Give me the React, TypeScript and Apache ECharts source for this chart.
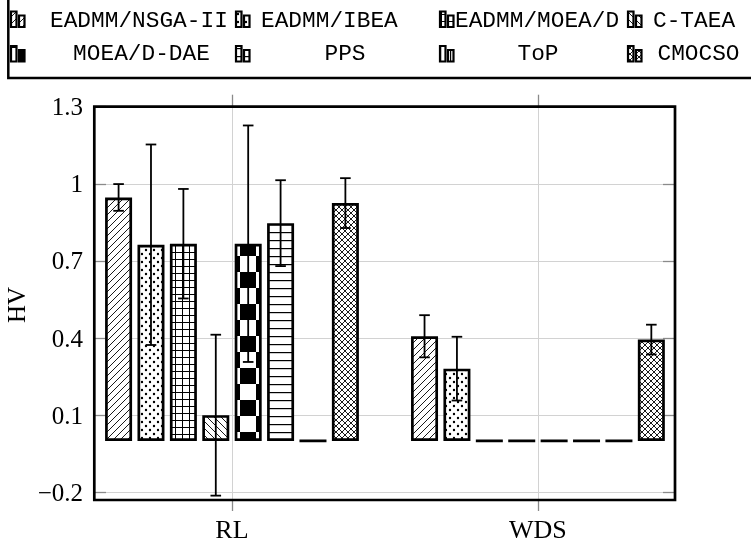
import React, { useEffect, useRef } from 'react';
import * as echarts from 'echarts';

// ---------- data ----------
const categories = ['RL', 'WDS'];
const categoryPos = [0, 1];
const seriesNames = ['EADMM/NSGA-II', 'EADMM/IBEA', 'EADMM/MOEA/D', 'C-TAEA', 'MOEA/D-DAE', 'PPS', 'ToP', 'CMOCSO'];

const nsga2Mean = [0.947, 0.407];
const nsga2Std = [0.052, 0.082];
const ibeaMean = [0.763, 0.281];
const ibeaStd = [0.39, 0.124];
const moeadMean = [0.767, 0];
const moeadStd = [0.213, 0];
const ctaeaMean = [0.1, 0];
const ctaeaStd = [0.313, 0];
const daeMean = [0.767, 0];
const daeStd = [0.46, 0];
const ppsMean = [0.847, 0];
const ppsStd = [0.167, 0];
const topMean = [0, 0];
const topStd = [0, 0];
const cmocsoMean = [0.925, 0.394];
const cmocsoStd = [0.097, 0.058];

const yTicks = [-0.2, 0.1, 0.4, 0.7, 1, 1.3];

const allMeans = [nsga2Mean, ibeaMean, moeadMean, ctaeaMean, daeMean, ppsMean, topMean, cmocsoMean];
const allStds = [nsga2Std, ibeaStd, moeadStd, ctaeaStd, daeStd, ppsStd, topStd, cmocsoStd];
const patternKinds = ['ne', 'dots', 'grid', 'nw', 'checker', 'hlines', 'vlines', 'cross'];

// ---------- styling ----------
const BAR_W = 27;
const BAR_GAP = 0.2;

function makePattern(kind: string): any {
  const sizes: Record<string, number> = { ne: 7, dots: 8, grid: 7, nw: 7, checker: 32, hlines: 8, vlines: 5, cross: 6 };
  const s = sizes[kind];
  const c = document.createElement('canvas');
  c.width = s;
  c.height = s;
  const g = c.getContext('2d')!;
  g.fillStyle = '#fff';
  g.fillRect(0, 0, s, s);
  g.fillStyle = '#000';
  g.strokeStyle = '#000';
  g.lineWidth = 0.9;
  const diag = (dir: number) => {
    g.beginPath();
    for (let k = -1; k <= 1; k++) {
      if (dir > 0) {
        g.moveTo(k * s, s);
        g.lineTo(k * s + s, 0);
      } else {
        g.moveTo(k * s, 0);
        g.lineTo(k * s + s, s);
      }
    }
    g.stroke();
  };
  let ox = 0;
  let oy = 0;
  if (kind === 'ne') diag(1);
  else if (kind === 'nw') diag(-1);
  else if (kind === 'cross') {
    diag(1);
    diag(-1);
  } else if (kind === 'dots') {
    g.beginPath();
    g.arc(2, 2, 1.2, 0, Math.PI * 2);
    g.arc(6, 6, 1.2, 0, Math.PI * 2);
    g.fill();
  } else if (kind === 'grid') {
    g.fillRect(0, 0, s, 1);
    g.fillRect(0, 0, 1, s);
  } else if (kind === 'hlines') {
    g.fillRect(0, 0, s, 1.2);
  } else if (kind === 'vlines') {
    g.fillRect(0, 0, 1.2, s);
  } else if (kind === 'checker') {
    g.fillRect(0, 0, s / 2, s / 2);
    g.fillRect(s / 2, s / 2, s / 2, s / 2);
    ox = 18;
    oy = 9;
  }
  return { image: c, repeat: 'repeat', imageWidth: s, imageHeight: s, x: ox, y: oy };
}

export default function App() {
  const ref = useRef<HTMLDivElement>(null);
  useEffect(() => {
    if (!ref.current) return;
    const chart = echarts.init(ref.current, undefined, { renderer: 'svg' });
    const patterns = patternKinds.map((k) => makePattern(k));
    const serif = 'Liberation Serif';
    const mono = 'Liberation Mono';
    const xMin = -0.451;
    const xMax = 1.448;
    const yMin = -0.23;
    const yMax = 1.3;
    const tickColor = '#8a8a8a';
    const gridColor = '#d2d2d2';

    const barSeries = seriesNames.map((name, i) => ({
      name,
      type: 'bar',
      xAxisIndex: 0,
      yAxisIndex: 0,
      barWidth: BAR_W,
      barGap: BAR_GAP * 100 + '%',
      data: categoryPos.map((x, j) => [x, allMeans[i][j]]),
      itemStyle: { color: patterns[i], borderColor: '#000', borderWidth: 2.7 },
      z: 3,
    }));

    const errData: number[][] = [];
    allMeans.forEach((m, i) => {
      categoryPos.forEach((x, j) => {
        if (allStds[i][j] > 0) errData.push([x, m[j], allStds[i][j], i]);
      });
    });

    const errSeries = {
      type: 'custom',
      xAxisIndex: 0,
      yAxisIndex: 0,
      z: 6,
      clip: false,
      data: errData,
      renderItem: (_p: any, api: any) => {
        const x = api.value(0);
        const m = api.value(1);
        const s = api.value(2);
        const k = api.value(3);
        const step = BAR_W * (1 + BAR_GAP);
        const c = api.coord([x, m]);
        const cx = c[0] + (k - (seriesNames.length - 1) / 2) * step;
        const yt = api.coord([x, m + s])[1];
        const yb = api.coord([x, m - s])[1];
        const st = { stroke: '#000', lineWidth: 1.8 };
        const hw = 5.3;
        return {
          type: 'group',
          children: [
            { type: 'line', shape: { x1: cx, y1: yt, x2: cx, y2: yb }, style: st },
            { type: 'line', shape: { x1: cx - hw, y1: yt, x2: cx + hw, y2: yt }, style: st },
            { type: 'line', shape: { x1: cx - hw, y1: yb, x2: cx + hw, y2: yb }, style: st },
          ],
        };
      },
    };

    // legend graphic
    const iconX = [11, 236, 440, 628];
    const rowBottom = [27, 61.5];
    const rowMid = [20.5, 53.5];
    const textStart = [50, 261, 455, 653];
    const textCenter = [141.5, 345, 538, 698.5];
    const legendEls: any[] = [
      {
        type: 'rect',
        shape: { x: 8.3, y: -10, width: 800, height: 88 },
        style: { fill: 'none', stroke: '#000', lineWidth: 2.5 },
        z: 20,
      },
    ];
    seriesNames.forEach((name, i) => {
      const col = i % 4;
      const row = Math.floor(i / 4);
      const bx = iconX[col];
      const by = rowBottom[row];
      legendEls.push({
        type: 'rect',
        shape: { x: bx, y: by - 15.5, width: 5.5, height: 15.5 },
        style: { fill: patterns[i], stroke: '#000', lineWidth: 2.2 },
        z: 20,
      });
      legendEls.push({
        type: 'rect',
        shape: { x: bx + 8, y: by - 11.5, width: 5.5, height: 11.5 },
        style: { fill: patterns[i], stroke: '#000', lineWidth: 2.2 },
        z: 20,
      });
      legendEls.push({
        type: 'text',
        x: row === 0 ? textStart[col] : textCenter[col],
        y: rowMid[row],
        style: {
          text: name,
          font: '22.8px "' + mono + '"',
          fill: '#000',
          textAlign: row === 0 ? 'left' : 'center',
          textVerticalAlign: 'middle',
        },
        z: 20,
      });
    });

    const option: any = {
      animation: false,
      grid: { left: 94, right: 76, top: 106.7, bottom: 52 },
      xAxis: [
        {
          type: 'value',
          min: xMin,
          max: xMax,
          position: 'bottom',
          axisLine: { show: false, onZero: false },
          axisTick: { show: true, customValues: categoryPos, length: 11, lineStyle: { color: tickColor, width: 1.3 } },
          axisLabel: {
            customValues: categoryPos,
            formatter: (v: number) => categories[Math.round(v)],
            fontFamily: serif,
            fontSize: 26,
            color: '#000',
            margin: 16,
          },
          splitLine: { show: true, lineStyle: { color: gridColor, width: 1 } },
        },
        {
          type: 'value',
          min: xMin,
          max: xMax,
          position: 'top',
          axisLine: { show: false, onZero: false },
          axisTick: { show: true, customValues: categoryPos, length: 12, lineStyle: { color: tickColor, width: 1.3 } },
          axisLabel: { show: false },
          splitLine: { show: false },
        },
      ],
      yAxis: [
        {
          type: 'value',
          min: yMin,
          max: yMax,
          position: 'left',
          axisLine: { show: false, onZero: false },
          axisTick: { show: true, inside: true, customValues: yTicks, length: 12, lineStyle: { color: tickColor, width: 1.3 } },
          axisLabel: {
            customValues: yTicks,
            formatter: (v: number) => (v < 0 ? '\u2212' + Math.abs(v) : String(v)),
            fontFamily: serif,
            fontSize: 25,
            color: '#000',
            margin: 11,
          },
          splitLine: { show: true, lineStyle: { color: gridColor, width: 1 } },
        },
        {
          type: 'value',
          min: yMin,
          max: yMax,
          position: 'right',
          axisLine: { show: false, onZero: false },
          axisTick: { show: true, inside: true, customValues: yTicks, length: 12, lineStyle: { color: tickColor, width: 1.3 } },
          axisLabel: { show: false },
          splitLine: { show: false },
        },
      ],
      series: [...barSeries, errSeries],
      graphic: [
        {
          type: 'rect',
          shape: { x: 94.3, y: 106.7, width: 580.7, height: 393.3 },
          style: { fill: 'none', stroke: '#000', lineWidth: 2.7 },
          z: 30,
        },
        {
          type: 'text',
          x: 16,
          y: 305,
          rotation: Math.PI / 2,
          style: {
            text: 'HV',
            font: '25px "' + serif + '"',
            fill: '#000',
            textAlign: 'center',
            textVerticalAlign: 'middle',
          },
          z: 20,
        },
        ...legendEls,
      ],
    };
    chart.setOption(option);
    return () => chart.dispose();
  }, []);
  return <div ref={ref} style={{ position: 'fixed', left: 0, top: 0, width: 751, height: 552 }} />;
}
